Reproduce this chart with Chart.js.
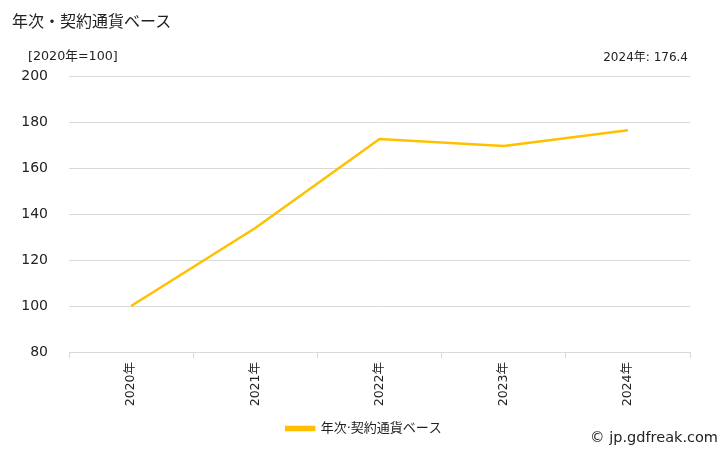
<!DOCTYPE html>
<html><head><meta charset="utf-8">
<script src="https://cdn.jsdelivr.net/npm/chart.js@4"></script>
<style>
html,body{margin:0;padding:0;background:#fff;}
#wrap{position:relative;width:728px;height:450px;font-family:"DejaVu Sans","Noto Sans CJK JP",sans-serif;color:#222;}
canvas{position:absolute;left:0;top:0;}
.t{position:absolute;white-space:nowrap;}
</style></head><body>
<div id="wrap">
<canvas id="c" width="728" height="450"></canvas>
<div class="t" style="left:12px;top:8px;font-size:16px;font-family:'Noto Sans CJK JP',sans-serif;">年次・契約通貨ベース</div>
<div class="t" style="left:28px;top:45px;font-size:12.7px;">[2020年=100]</div>
<div class="t" style="right:40px;top:47px;font-size:12px;">2024年: 176.4</div>
<div class="t" style="right:10px;top:429px;font-size:14.5px;">© jp.gdfreak.com</div>
</div>
<script>
const categories = ["2020年","2021年","2022年","2023年","2024年"];
const seriesName = "年次·契約通貨ベース";
const values = [100, 133.9, 172.6, 169.6, 176.4];
const yTicks = [80,100,120,140,160,180,200];

const color = "#FFC000";
const fam = "'DejaVu Sans','Noto Sans CJK JP',sans-serif";
new Chart(document.getElementById("c"), {
  type: "line",
  data: {
    labels: categories,
    datasets: [{
      label: seriesName,
      data: values,
      borderColor: color,
      backgroundColor: color,
      borderWidth: 2.5,
      pointRadius: 0,
      tension: 0
    }]
  },
  options: {
    responsive: false,
    animation: false,
    devicePixelRatio: 1,
    layout: { padding: { top: 76, right: 0, left: 0, bottom: 5 } },
    plugins: {
      legend: {
        position: "bottom",
        labels: {
          boxWidth: 28, boxHeight: 3, padding: 10,
          color: "#222",
          font: { family: fam, size: 13 }
        }
      },
      tooltip: { enabled: false }
    },
    scales: {
      x: {
        offset: true,
        grid: { display: true, drawOnChartArea: false, offset: true, color: "#d9d9d9", tickLength: 6 },
        border: { display: true, color: "#d9d9d9" },
        ticks: { minRotation: 90, maxRotation: 90, color: "#222", padding: 4,
                 font: { family: fam, size: 12.5 } },
        afterFit: s => { s.height = 60; }
      },
      y: {
        min: yTicks[0], max: yTicks[yTicks.length-1],
        afterBuildTicks: s => { s.ticks = yTicks.map(v => ({ value: v })); },
        grid: { color: "#d9d9d9", drawTicks: false },
        border: { display: false },
        ticks: { color: "#222", padding: 21,
                 font: { family: fam, size: 14 } },
        afterFit: s => { s.width = 69; }
      },
      yRight: {
        type: "linear",
        position: "right",
        display: true,
        grid: { drawOnChartArea: false, drawTicks: false, display: false },
        border: { display: false },
        ticks: { display: false },
        afterFit: s => { s.width = 38; }
      }
    }
  }
});
</script>
</body></html>
